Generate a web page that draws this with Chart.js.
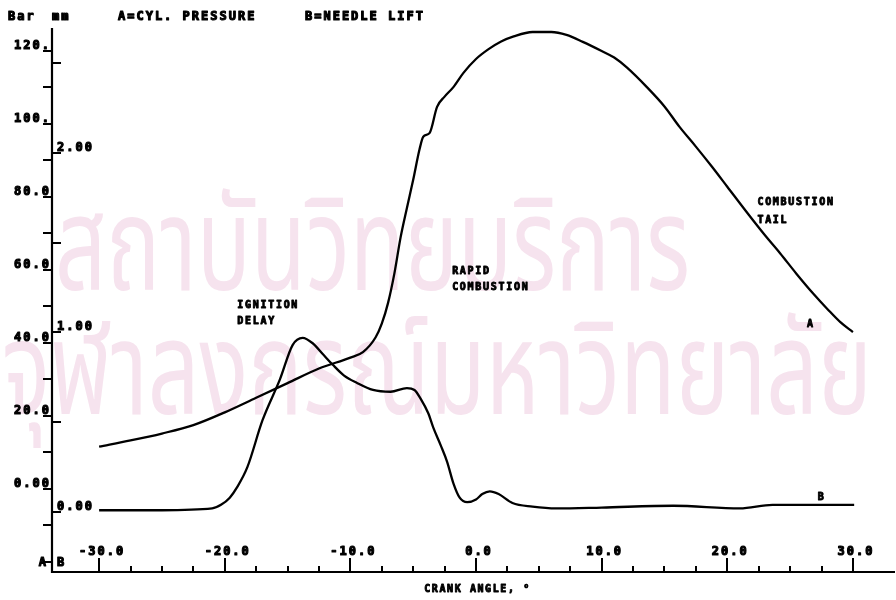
<!DOCTYPE html>
<html><head><meta charset="utf-8">
<script src="https://cdn.jsdelivr.net/npm/chart.js@4.4.1/dist/chart.umd.min.js"></script>
<style>html,body{margin:0;padding:0;background:#fff;} #wrap{width:896px;height:600px;position:relative;}</style>
</head><body><div id="wrap"><canvas id="c" width="896" height="600"></canvas></div>
<script>
// ---- data ----
const crankA = [-30,-27.5,-25,-22.5,-20,-17.5,-15,-12.5,-10,-9,-8,-7.5,-7,-6.5,-6,-5.5,-5,-4.5,-4.2,-3.7,-3.1,-2.5,-1.8,-1,0,1,2,3,4.5,6,7.2,8.5,10,11,12,13.6,15,16.2,17.5,18.8,20,21.6,23,24.2,25.5,26.8,28,29,30];
const pressureA = [11.6,13.3,15.2,17.5,21.0,25.0,29.0,33.0,36.0,37.5,41.5,45.3,51,59,69,77,84.7,93,96.5,97.5,104.7,107.5,110.1,114,117.8,120.5,122.6,124,125.2,125.2,124.4,122.5,120,118.2,115.5,110.1,104.8,99.2,93.8,88.2,82.8,75.6,69.5,64.6,59,53.7,49.2,45.7,43.0];
const crankB = [-30,-25,-21,-20.3,-19.6,-19,-18.2,-17,-15.6,-14.6,-13.8,-13,-12.2,-11.4,-10.5,-9.5,-8.2,-6.8,-5.5,-4.9,-4.4,-3.8,-3.4,-2.8,-2.3,-1.8,-1.3,-0.7,0,0.5,1.1,1.8,2.9,4.5,6.4,10,15.7,21,23.6,30.1];
const liftB = [0.01,0.01,0.02,0.04,0.08,0.14,0.25,0.51,0.74,0.93,0.97,0.94,0.88,0.82,0.76,0.72,0.68,0.67,0.69,0.68,0.63,0.55,0.47,0.37,0.28,0.16,0.08,0.055,0.07,0.10,0.115,0.10,0.05,0.03,0.02,0.025,0.035,0.02,0.04,0.04];

const xTickValues = [-30,-20,-10,0,10,20,30];
const xTickLabels = ['-30.0','-20.0','-10.0','0.0','10.0','20.0','30.0'];
const aTickValues = [0,20,40,60,80,100,120];
const aTickLabels = ['0.00','20.0','40.0','60.0','80.0','100.','120.'];
const bTickValues = [0,1,2];
const bTickLabels = ['0.00','1.00','2.00'];

const titleTexts = ['Bar','mm','A=CYL. PRESSURE','B=NEEDLE LIFT'];
const axisTitle = 'CRANK ANGLE, \u00b0';
const noteTexts = ['IGNITION','DELAY','RAPID','COMBUSTION','COMBUSTION','TAIL','A','B'];
const noteCrank = [-19.0,-19.0,-1.9,-1.9,22.4,22.4,26.35,27.2];
const notePressure = [50.4,45.8,59.7,55.3,78.4,73.7,45.2,-2.2];
const watermark = ['สถาบันวิทยบริการ','จุฬาลงกรณ์มหาวิทยาลัย'];

const FONT = '"DejaVu Sans Mono", "Liberation Mono", monospace';

function heavyText(ctx, t, x, y, w) {
  ctx.lineWidth = w;
  ctx.strokeText(t, x, y);
  ctx.fillText(t, x, y);
}

const paperPlugin = {
  id: 'paper',
  beforeDraw(chart) {
    const ctx = chart.ctx;
    ctx.save();
    ctx.fillStyle = '#fff';
    ctx.fillRect(0, 0, chart.width, chart.height);
    // watermark
    ctx.fillStyle = '#f6e3ee';
    ctx.font = '130px "Noto Sans Thai", "Loma", "Garuda", "Noto Sans", sans-serif';
    ctx.textBaseline = 'alphabetic';
    const wm = [[watermark[0], 55, 635, 290], [watermark[1], 2, 870, 414]];
    wm.forEach(([t, x0, w, by]) => {
      const mw = ctx.measureText(t).width;
      ctx.save();
      ctx.translate(x0, by);
      ctx.scale(w / mw, 1);
      ctx.fillText(t, 0, 0);
      ctx.restore();
    });
    ctx.restore();
  },
  afterDraw(chart) {
    const ctx = chart.ctx;
    const ca = chart.chartArea;
    const sx = chart.scales.x, sa = chart.scales.yA, sb = chart.scales.yB;
    const L = ca.left, B = ca.bottom, T = ca.top, R = ca.right;
    ctx.save();
    ctx.strokeStyle = '#000';
    ctx.fillStyle = '#000';
    ctx.lineCap = 'butt';
    ctx.lineWidth = 2.2;
    ctx.beginPath();
    ctx.moveTo(L, T); ctx.lineTo(L, B); ctx.lineTo(R, B);
    ctx.stroke();
    ctx.lineWidth = 2;
    for (let v = -20; v <= 120; v += 10) {
      const y = Math.round(sa.getPixelForValue(v));
      ctx.beginPath(); ctx.moveTo(L - 9, y); ctx.lineTo(L, y); ctx.stroke();
    }
    for (let v = 0; v <= 2.5; v += 0.5) {
      const y = Math.round(sb.getPixelForValue(v));
      ctx.beginPath(); ctx.moveTo(L, y); ctx.lineTo(L + 9, y); ctx.stroke();
    }
    for (let v = -30; v <= 30; v += 2.5) {
      const x = Math.round(sx.getPixelForValue(v));
      const major = Math.abs(v % 10) < 1e-6;
      ctx.beginPath(); ctx.moveTo(x, B); ctx.lineTo(x, B - (major ? 14 : 6)); ctx.stroke();
    }
    ctx.lineJoin = 'round';
    ctx.font = 'bold 12px ' + FONT;
    ctx.letterSpacing = '2px';
    ctx.textAlign = 'right'; ctx.textBaseline = 'alphabetic';
    aTickValues.forEach((v, i) => {
      heavyText(ctx, aTickLabels[i], L - 1, sa.getPixelForValue(v) - 2, 1.1);
    });
    ctx.textAlign = 'left';
    bTickValues.forEach((v, i) => {
      heavyText(ctx, bTickLabels[i], L + 5, sb.getPixelForValue(v) - 2, 1.1);
    });
    ctx.textAlign = 'center'; ctx.textBaseline = 'middle';
    xTickValues.forEach((v, i) => {
      heavyText(ctx, xTickLabels[i], sx.getPixelForValue(v) + 3, B - 20, 1.1);
    });
    ctx.textAlign = 'right';
    heavyText(ctx, 'A', L - 4, B - 9, 1.1);
    ctx.textAlign = 'left';
    heavyText(ctx, 'B', L + 5, B - 9, 1.1);
    ctx.textBaseline = 'middle';
    heavyText(ctx, titleTexts[0], 8, 17, 1.1);
    heavyText(ctx, titleTexts[1], 52, 17, 1.1);
    heavyText(ctx, titleTexts[2], 118, 17, 1.1);
    heavyText(ctx, titleTexts[3], 305, 17, 1.1);
    ctx.font = 'bold 10px ' + FONT;
    ctx.letterSpacing = '1.6px';
    ctx.textAlign = 'center';
    heavyText(ctx, axisTitle, (L + R) / 2 + 4, B + 17, 0.9);
    ctx.textAlign = 'left';
    ctx.letterSpacing = '1.7px';
    noteTexts.forEach((t, i) => {
      heavyText(ctx, t, sx.getPixelForValue(noteCrank[i]), sa.getPixelForValue(notePressure[i]), 0.9);
    });
    ctx.restore();
  }
};

const dsA = crankA.map((x, i) => ({x, y: pressureA[i]}));
const dsB = crankB.map((x, i) => ({x, y: liftB[i]}));

new Chart(document.getElementById('c'), {
  type: 'line',
  data: {
    datasets: [
      {label: 'A=CYL. PRESSURE', data: dsA, yAxisID: 'yA', borderColor: '#000', borderWidth: 2.3, pointRadius: 0, fill: false, cubicInterpolationMode: 'monotone'},
      {label: 'B=NEEDLE LIFT', data: dsB, yAxisID: 'yB', borderColor: '#000', borderWidth: 2.3, pointRadius: 0, fill: false, cubicInterpolationMode: 'monotone'}
    ]
  },
  options: {
    responsive: false,
    animation: false,
    layout: {padding: {left: 52, right: 1, top: 28, bottom: 28}},
    plugins: {legend: {display: false}, tooltip: {enabled: false}},
    scales: {
      x: {type: 'linear', min: -33.75, max: 33.35, display: false},
      yA: {type: 'linear', min: -22.74, max: 126.3, display: false},
      yB: {type: 'linear', min: -0.334, max: 2.696, display: false}
    }
  },
  plugins: [paperPlugin]
});
</script>
</body></html>
